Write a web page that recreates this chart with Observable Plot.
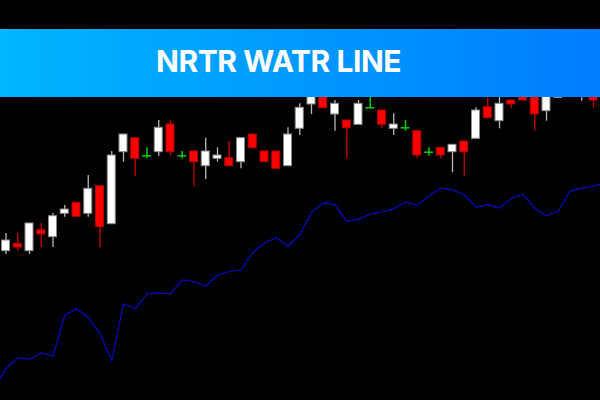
<!DOCTYPE html>
<html>
<head>
<meta charset="utf-8">
<script src="https://cdn.jsdelivr.net/npm/d3@7"></script>
<script src="https://cdn.jsdelivr.net/npm/@observablehq/plot@0.6"></script>
<style>
  html, body { margin: 0; padding: 0; background: #000; }
  #wrap { position: relative; width: 600px; height: 400px; overflow: hidden; background: #000; }
  #banner { position: absolute; left: 0; top: 29px; width: 600px; height: 68px;
    background: linear-gradient(90deg, #00b6fe 0%, #0099fe 50%, #007cff 100%); }
  #title { position: absolute; left: 156px; top: 17px; font-family: Inter, "Open Sans", sans-serif;
    font-weight: 700; font-size: 30px; line-height: 30px; color: #fff; white-space: nowrap; letter-spacing: -0.45px; }
</style>
</head>
<body>
<div id="wrap"><div id="chart"></div><div id="banner"><div id="title">NRTR WATR LINE</div></div></div>
<script>
// Candle OHLC (bar index 1..51)
const opens  = [149.3,156.7,149.3,170.3,163.3,186.7,197.7,186.7,214.3,176.3,248.3,262.3,244.7,248.3,276,244.7,249,234.3,241.7,242.3,238.3,266,249,249,234.3,271.7,296,312,286,280,275.7,292.7,290,271.7,272.7,269.3,248.3,252.7,248.3,259,261.7,293.3,279.3,300,310,318,289.3,302.5,328,306,310];
const highs  = [167,167,177,177,187,195,197.7,225,214.3,249,266,262.3,252.7,280,280,249,249,262.3,252.7,259,262.3,266,249,249,272.7,296.7,315,320,300,280,300,315,290,286.7,280,269.3,252.7,252.7,255.7,259,292.7,312,310,300,315,325,320,330,335,330,315];
const lows   = [146,149.3,146,153,153,183.3,183.7,183.3,153,176.3,238.3,224.3,241.7,244.3,244.3,241.7,214,221,238.3,234.3,231.7,252.3,238.3,231.7,234.3,265,286,292.3,269.3,241.7,275.7,292.7,271.7,265,269.3,241.7,244.3,241.7,227.7,224.3,261.7,282.3,271.7,292.3,300,269.3,279.3,302.5,308,299.3,292.3];
const closes = [160,153,177,166,184.3,191,183.7,211.7,173.3,245,266,241.7,244.7,272.7,248.3,244.7,238.3,249,245,234.3,262.3,252.3,238.3,231.7,266,292.7,310,292.3,296.7,272.3,296.7,292.7,275.7,276,272.7,245,248.3,245,255.7,248.3,290,282.3,296.7,296,300,286,315,322,312,320,300];
// NRTR WATR line (bar index 0..52)
const watr = [12,32,42.7,41.3,47.7,44.3,85,92,83.3,66.7,40,96.7,91.7,106.7,107.7,106.7,120.7,119,114.3,125.3,129,130.5,147.8,157.5,162.8,154.2,165.8,188,197.7,195.8,179.2,181.3,186.5,188.5,191.7,198.3,195.5,204.3,212.5,210.7,205.5,193.3,195.7,192.3,202.3,206,192.3,184.7,189.3,209.3,212.3,214,218.5];

const candles = opens.map((o, k) => ({i: k + 1, open: o, high: highs[k], low: lows[k], close: closes[k]}));
const ups = candles.filter(d => d.close > d.open);
const downs = candles.filter(d => d.close < d.open);
const dojis = candles.filter(d => d.close === d.open);
const line = watr.map((v, i) => ({i, v}));

const hw = 0.34;
const chart = Plot.plot({
  width: 600, height: 400,
  margin: 0,
  style: {background: "#000"},
  x: {domain: [0.5319, 51.596], range: [0, 600], axis: null},
  y: {domain: [0, 400], range: [400, 0], axis: null},
  marks: [
    Plot.line(line, {x: "i", y: "v", stroke: "#0808c8", strokeWidth: 1.2, clip: true}),
    Plot.ruleX(ups, {x: "i", y1: "low", y2: "high", stroke: "#b8b8b8", strokeWidth: 1.3, clip: true}),
    Plot.ruleX(downs, {x: "i", y1: "low", y2: "high", stroke: "#d00000", strokeWidth: 1.3, clip: true}),
    Plot.ruleX(dojis, {x: "i", y1: "low", y2: "high", stroke: "#00d000", strokeWidth: 1.5, clip: true}),
    Plot.rect(ups, {x1: d => d.i - hw, x2: d => d.i + hw, y1: "open", y2: "close", fill: "#fff", stroke: "#8a8a8a", strokeWidth: 1, clip: true}),
    Plot.rect(downs, {x1: d => d.i - hw, x2: d => d.i + hw, y1: "open", y2: "close", fill: "#ff0000", stroke: "#b00000", strokeWidth: 1, clip: true}),
    Plot.ruleY(dojis, {y: "open", x1: d => d.i - 0.38, x2: d => d.i + 0.38, stroke: "#00d000", strokeWidth: 1.5, clip: true})
  ]
});
document.getElementById("chart").appendChild(chart);
</script>
</body>
</html>
